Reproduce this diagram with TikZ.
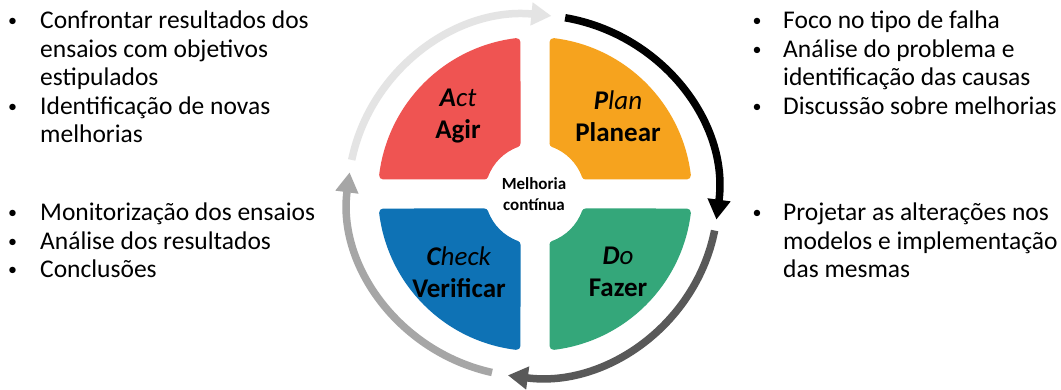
\documentclass[tikz,border=0pt]{standalone}
\usepackage{fontspec}
\setmainfont{Carlito}
\usetikzlibrary{arrows.meta}
\definecolor{qred}{RGB}{239,84,82}
\definecolor{qorange}{RGB}{246,163,30}
\definecolor{qblue}{RGB}{14,114,181}
\definecolor{qgreen}{RGB}{52,167,122}
\definecolor{rblack}{RGB}{0,0,0}
\definecolor{rdark}{RGB}{89,89,89}
\definecolor{rgrey}{RGB}{166,166,166}
\definecolor{rlight}{RGB}{228,228,228}
\begin{document}
\begin{tikzpicture}[x=1pt,y=1pt,
  quad/.style={line width=8pt, line join=round},
  ringarrow/.style={line width=7.5pt, -{Triangle[width=22pt,length=20pt]}},
  listtext/.style={anchor=base west, inner sep=0pt, font=\fontsize{25.5}{28.5}\selectfont},
  bulletmark/.style={anchor=base, inner sep=0pt, yshift=2pt, font=\fontsize{18}{20}\selectfont},
  quadlabel/.style={align=center, inner sep=0pt, font=\fontsize{27}{32}\selectfont},
]
\useasboundingbox (0,0) rectangle (1061,390);
\fill[white] (0,0) rectangle (1061,390);

% quadrants
\begin{scope}[shift={(535,196)}]
  \foreach \rot/\col in {0/qorange,90/qred,180/qblue,270/qgreen}{
    \begin{scope}[rotate=\rot]
      \filldraw[fill=\col, draw=\col, quad]
        (83.05:153) arc[start angle=83.05, end angle=6.95, radius=153]
        -- (20.03:54) arc[start angle=20.03, end angle=69.97, radius=54]
        -- cycle;
    \end{scope}
  }
\end{scope}

% ring arrows
\begin{scope}[shift={(533,194)}]
  \coordinate (a1s) at (80:185 and 181);
  \coordinate (a2s) at (-11:185 and 181);
  \coordinate (a3s) at (-102.8:185 and 181);
  \coordinate (a4s) at (168.5:185 and 181);
  \draw[ringarrow, rblack] (a1s) arc[start angle=80, end angle=-7.5, x radius=185, y radius=181];
  \draw[ringarrow, rdark] (a2s) arc[start angle=-11, end angle=-97.8, x radius=185, y radius=181];
  \draw[ringarrow, rgrey] (a3s) arc[start angle=-102.8, end angle=-187.5, x radius=185, y radius=181];
  \draw[ringarrow, rlight] (a4s) arc[start angle=168.5, end angle=84.3, x radius=185, y radius=181];
\end{scope}

% quadrant labels
\node[quadlabel] (act) at (458,274) {\textit{\textbf{A}ct}\\\textbf{Agir}};
\node[quadlabel] (plan) at (618,274) {\textit{\textbf{P}lan}\\\textbf{Planear}};
\node[quadlabel] (check) at (459,118) {\textit{\textbf{C}heck}\\\textbf{Verificar}};
\node[quadlabel] (do) at (618,118) {\textit{\textbf{D}o}\\\textbf{Fazer}};
\node[align=center, inner sep=0pt, font=\fontsize{17}{21}\selectfont\bfseries] (center) at (534,196) {Melhoria\\contínua};

% left lists
\node[bulletmark] (lb1) at (12.5,361) {•};
\node[listtext] (l1) at (40,361) {\begin{tabular}[t]{@{}l@{}}Confrontar resultados dos\\ensaios com objetivos\\estipulados\end{tabular}};
\node[bulletmark] (lb2) at (12.5,275.5) {•};
\node[listtext] (l2) at (40,275.5) {\begin{tabular}[t]{@{}l@{}}Identificação de novas\\melhorias\end{tabular}};
\node[bulletmark] (lb3) at (12.5,169) {•};
\node[listtext] (l3) at (40,169) {Monitorização dos ensaios};
\node[bulletmark] (lb4) at (12.5,140.5) {•};
\node[listtext] (l4) at (40,140.5) {Análise dos resultados};
\node[bulletmark] (lb5) at (12.5,112) {•};
\node[listtext] (l5) at (40,112) {Conclusões};

% right lists
\node[bulletmark] (rb1) at (757,361) {•};
\node[listtext] (r1) at (783,361) {Foco no tipo de falha};
\node[bulletmark] (rb2) at (757,332.5) {•};
\node[listtext] (r2) at (783,332.5) {\begin{tabular}[t]{@{}l@{}}Análise do problema e\\identificação das causas\end{tabular}};
\node[bulletmark] (rb3) at (757,275.5) {•};
\node[listtext] (r3) at (783,275.5) {Discussão sobre melhorias};
\node[bulletmark] (rb4) at (757,169) {•};
\node[listtext] (r4) at (783,169) {\begin{tabular}[t]{@{}l@{}}Projetar as alterações nos\\modelos e implementação\\das mesmas\end{tabular}};
\end{tikzpicture}
\end{document}
